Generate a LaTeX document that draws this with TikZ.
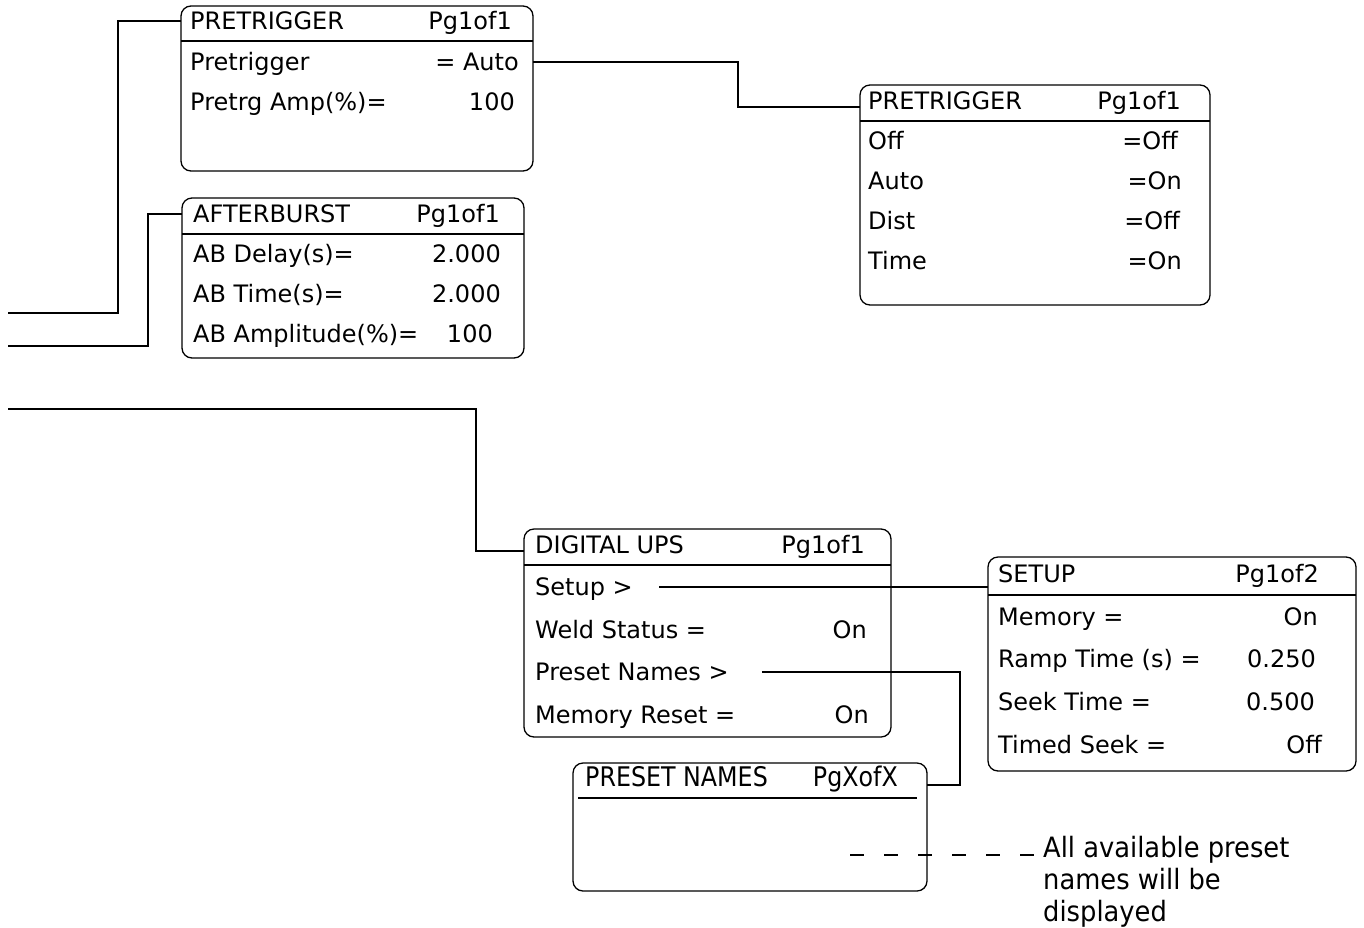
\documentclass[tikz,border=0pt]{standalone}
\usepackage{fontspec}
\setmainfont{DejaVu Sans}
\newfontfamily\condfont[FakeStretch=0.88]{DejaVu Sans}
\newfontfamily\notefont[FakeStretch=0.92]{DejaVu Sans}
\usetikzlibrary{calc}
\tikzset{
  panel/.style={draw, line width=1.3pt, rounded corners=10pt, inner sep=0pt, outer sep=0pt, anchor=north west},
  lbl/.style={inner sep=0pt, text height=19pt, text depth=3pt, anchor=west, font=\fontsize{24}{28}\selectfont},
  val/.style={lbl, anchor=east},
  clbl/.style={inner sep=0pt, text height=20pt, text depth=3pt, font=\condfont\fontsize{27}{32}\selectfont},
  wire/.style={line width=1.3pt},
  rule/.style={line width=1.3pt}
}
\begin{document}
\begin{tikzpicture}[x=1pt,y=-1pt]
\useasboundingbox (0,0) rectangle (1364,927);

% ---------- PRETRIGGER (top left)
\node[panel, minimum width=352pt, minimum height=165pt] (pA) at (181,6) {};
\draw[rule] (181,41) -- (533,41);
\node[lbl] (tA) at (190,21) {PRETRIGGER};
\node[val] (gA) at (512,21) {Pg1of1};
\node[lbl] (lA1) at (190,62) {Pretrigger};
\node[val] (vA1) at (519,62) {= Auto};
\node[lbl] (lA2) at (190,102) {Pretrg Amp(\%)=};
\node[val] (vA2) at (515,102) {100};

% ---------- PRETRIGGER (right)
\node[panel, minimum width=350pt, minimum height=220pt] (pB) at (860,85) {};
\draw[rule] (860,121) -- (1210,121);
\node[lbl] (tB) at (868,101) {PRETRIGGER};
\node[val] (gB) at (1181,101) {Pg1of1};
\node[lbl] (lB1) at (868,141) {Off};
\node[val] (vB1) at (1178,141) {=Off};
\node[lbl] (lB2) at (868,181) {Auto};
\node[val] (vB2) at (1182,181) {=On};
\node[lbl] (lB3) at (868,221) {Dist};
\node[val] (vB3) at (1180,221) {=Off};
\node[lbl] (lB4) at (868,261) {Time};
\node[val] (vB4) at (1182,261) {=On};

% ---------- AFTERBURST
\node[panel, minimum width=342pt, minimum height=160pt] (pC) at (182,198) {};
\draw[rule] (182,234) -- (524,234);
\node[lbl] (tC) at (193,214) {AFTERBURST};
\node[val] (gC) at (500,214) {Pg1of1};
\node[lbl] (lC1) at (193,254) {AB Delay(s)=};
\node[val] (vC1) at (501,254) {2.000};
\node[lbl] (lC2) at (193,294) {AB Time(s)=};
\node[val] (vC2) at (501,294) {2.000};
\node[lbl] (lC3) at (193,334) {AB Amplitude(\%)=};
\node[val] (vC3) at (493,334) {100};

% ---------- DIGITAL UPS
\node[panel, minimum width=367pt, minimum height=208pt] (pD) at (524,529) {};
\draw[rule] (524,565) -- (891,565);
\node[lbl] (tD) at (535,545) {DIGITAL UPS};
\node[val] (gD) at (865,545) {Pg1of1};
\node[lbl] (lD1) at (535,587) {Setup >};
\node[lbl] (lD2) at (535,630) {Weld Status =};
\node[val] (vD2) at (867,630) {On};
\node[lbl] (lD3) at (535,672) {Preset Names >};
\node[lbl] (lD4) at (535,715) {Memory Reset =};
\node[val] (vD4) at (869,715) {On};

% ---------- SETUP
\node[panel, minimum width=368pt, minimum height=214pt] (pE) at (988,557) {};
\draw[rule] (988,595) -- (1356,595);
\node[lbl] (tE) at (998,574) {SETUP};
\node[val] (gE) at (1319,574) {Pg1of2};
\node[lbl] (lE1) at (998,617) {Memory =};
\node[val] (vE1) at (1318,617) {On};
\node[lbl] (lE2) at (998,659) {Ramp Time (s) =};
\node[val] (vE2) at (1316,659) {0.250};
\node[lbl] (lE3) at (998,702) {Seek Time =};
\node[val] (vE3) at (1315,702) {0.500};
\node[lbl] (lE4) at (998,745) {Timed Seek =};
\node[val] (vE4) at (1322,745) {Off};

% ---------- PRESET NAMES
\node[panel, minimum width=354pt, minimum height=128pt] (pF) at (573,763) {};
\draw[rule] (578,798) -- (917,798);
\node[clbl, anchor=west] (tF) at (585,778) {PRESET NAMES};
\node[clbl, anchor=east] (gF) at (898,778) {PgXofX};

% ---------- note
\node[inner sep=0pt, anchor=north west, align=left,
      font=\notefont\fontsize{28}{32}\selectfont] (note) at (1043,836)
  {All available preset\\names will be\\displayed};

% ---------- connectors
\coordinate (inA) at (8,313);
\coordinate (inC) at (8,346);
\coordinate (inD) at (8,409);
\draw[wire] (inA) -- (118,313) |- (pA.west |- tA.west);
\draw[wire] (inC) -- (148,346) |- (pC.west |- tC.west);
\draw[wire] (inD) -- (476,409) |- ($(pD.north west)+(0,22)$);
\draw[wire] (pA.east |- vA1.east) -| (738,107) -- ($(pB.north west)+(0,22)$);
\draw[wire] ($(lD1.east)+(26,0)$) -- (pE.west |- lD1.east);
\draw[wire] ($(lD3.east)+(33,0)$) -| (960,785) -- ($(pF.north east)+(0,22)$);
\coordinate (dashstart) at (850,855);
\draw[wire, dash pattern=on 14pt off 20pt] (dashstart) -- (1040,855);
\end{tikzpicture}
\end{document}
